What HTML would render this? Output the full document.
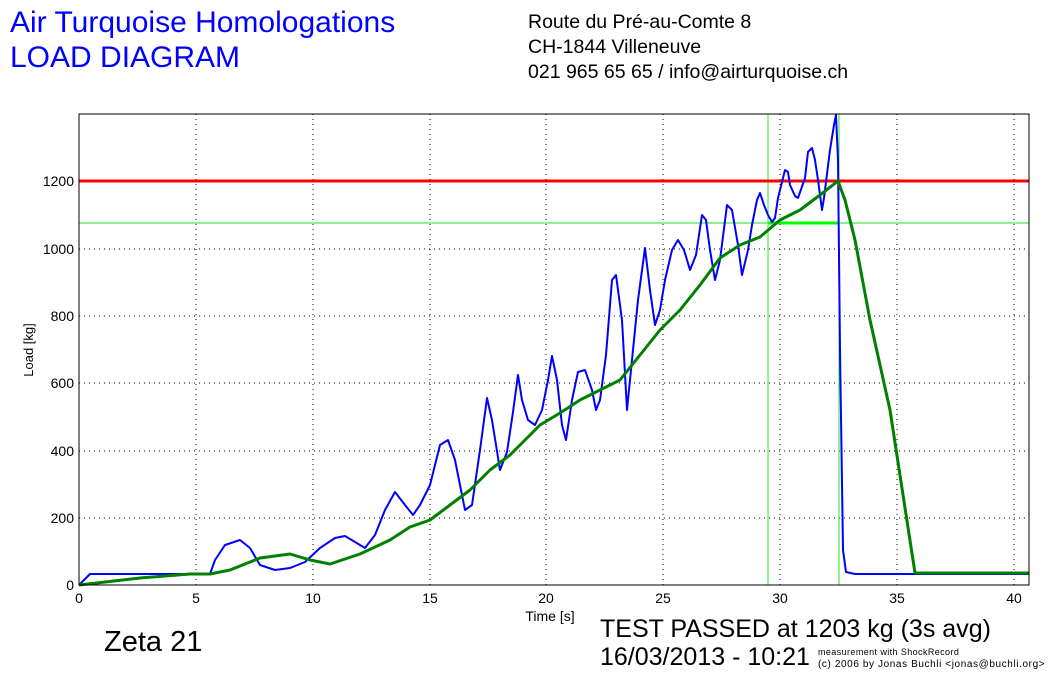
<!DOCTYPE html>
<html><head><style>
body{margin:0;background:#fff;width:1055px;height:674px;overflow:hidden;font-family:"Liberation Sans",sans-serif}
</style></head><body>
<svg width="1055" height="674" xmlns="http://www.w3.org/2000/svg" font-family="Liberation Sans, sans-serif">
<text x="10" y="32" font-size="30" fill="#0000ff">Air Turquoise Homologations</text>
<text x="10" y="67" font-size="30" fill="#0000ff">LOAD DIAGRAM</text>
<text x="528" y="28" font-size="19.5">Route du Pré-au-Comte 8</text>
<text x="528" y="53" font-size="19.5">CH-1844 Villeneuve</text>
<text x="528" y="78" font-size="19.5">021 965 65 65 / info@airturquoise.ch</text>
<g stroke="#000" stroke-width="1" stroke-dasharray="1,4">
<line x1="196" y1="114" x2="196" y2="585"/><line x1="313" y1="114" x2="313" y2="585"/><line x1="430" y1="114" x2="430" y2="585"/><line x1="546" y1="114" x2="546" y2="585"/><line x1="663" y1="114" x2="663" y2="585"/><line x1="780" y1="114" x2="780" y2="585"/><line x1="897" y1="114" x2="897" y2="585"/><line x1="1014" y1="114" x2="1014" y2="585"/>
<line x1="79" y1="518" x2="1029" y2="518"/><line x1="79" y1="451" x2="1029" y2="451"/><line x1="79" y1="383" x2="1029" y2="383"/><line x1="79" y1="316" x2="1029" y2="316"/><line x1="79" y1="249" x2="1029" y2="249"/><line x1="79" y1="181" x2="1029" y2="181"/>
</g>
<line x1="79" y1="223" x2="1029" y2="223" stroke="#22dd22" stroke-width="1"/>
<line x1="768" y1="114" x2="768" y2="585" stroke="#22ee22" stroke-width="1"/>
<line x1="839" y1="114" x2="839" y2="585" stroke="#22ee22" stroke-width="1"/>
<line x1="79" y1="181" x2="1029" y2="181" stroke="#ff0000" stroke-width="3"/>
<line x1="768" y1="223" x2="839" y2="223" stroke="#00ff00" stroke-width="3"/>
<polyline fill="none" stroke="#0000ff" stroke-width="2" stroke-linejoin="round" points="79,585 90,574 210,574 215,560 225,545 240,540 250,548 260,565 275,570 290,568 305,562 320,548 335,538 345,536 355,542 365,548 375,535 385,510 395,492 405,505 413,515 420,505 430,485 440,445 448,440 455,460 465,510 472,505 480,450 487,398 492,420 500,470 507,452 513,412 518,375 522,400 528,420 535,425 542,410 548,380 552,356 557,380 562,425 566,440 572,400 578,372 585,370 592,390 596,410 600,400 606,355 612,280 616,275 622,320 627,410 632,360 638,300 645,248 650,290 655,325 660,310 665,280 672,250 678,240 684,250 690,270 696,255 702,215 706,220 710,250 715,280 720,260 727,205 732,210 738,245 742,275 748,250 752,225 757,200 760,193 764,205 768,215 772,222 775,218 778,198 782,182 785,170 788,172 790,185 795,196 798,198 805,178 808,152 812,148 815,160 818,180 822,210 824,198 830,150 834,125 836,115 838,160 840,350 843,550 846,572 855,574 1029,574"/>
<polyline fill="none" stroke="#008000" stroke-width="3" stroke-linejoin="round" points="79,585 140,578 190,574 210,574 230,570 260,558 290,554 310,560 330,564 360,554 390,540 410,527 430,520 450,505 470,490 490,470 510,455 540,425 560,413 580,400 600,390 620,380 640,355 660,330 680,310 700,285 720,258 740,245 760,237 780,220 800,210 820,195 838,181 845,200 855,240 870,320 890,410 915,573 1029,573"/>
<rect x="79" y="114" width="950" height="471" fill="none" stroke="#000" stroke-width="1"/>
<g font-size="14" text-anchor="middle">
<text x="79" y="603">0</text><text x="196" y="603">5</text><text x="313" y="603">10</text><text x="430" y="603">15</text><text x="546" y="603">20</text><text x="663" y="603">25</text><text x="780" y="603">30</text><text x="897" y="603">35</text><text x="1014" y="603">40</text>
</g>
<g font-size="14" text-anchor="end">
<text x="74" y="590">0</text><text x="74" y="523">200</text><text x="74" y="456">400</text><text x="74" y="388">600</text><text x="74" y="321">800</text><text x="74" y="254">1000</text><text x="74" y="186">1200</text>
</g>
<text x="550" y="621" font-size="14" text-anchor="middle">Time [s]</text>
<text transform="translate(33,350) rotate(-90)" font-size="13" text-anchor="middle">Load [kg]</text>
<text x="104" y="651" font-size="29">Zeta 21</text>
<text x="600" y="637" font-size="25">TEST PASSED at 1203 kg (3s avg)</text>
<text x="600" y="665" font-size="25">16/03/2013 - 10:21</text>
<text x="818" y="655" font-size="9" letter-spacing="0.4">measurement with ShockRecord</text>
<text x="818" y="667" font-size="10" letter-spacing="0.6">(c) 2006 by Jonas Buchli &lt;jonas@buchli.org&gt;</text>
</svg>
</body></html>
